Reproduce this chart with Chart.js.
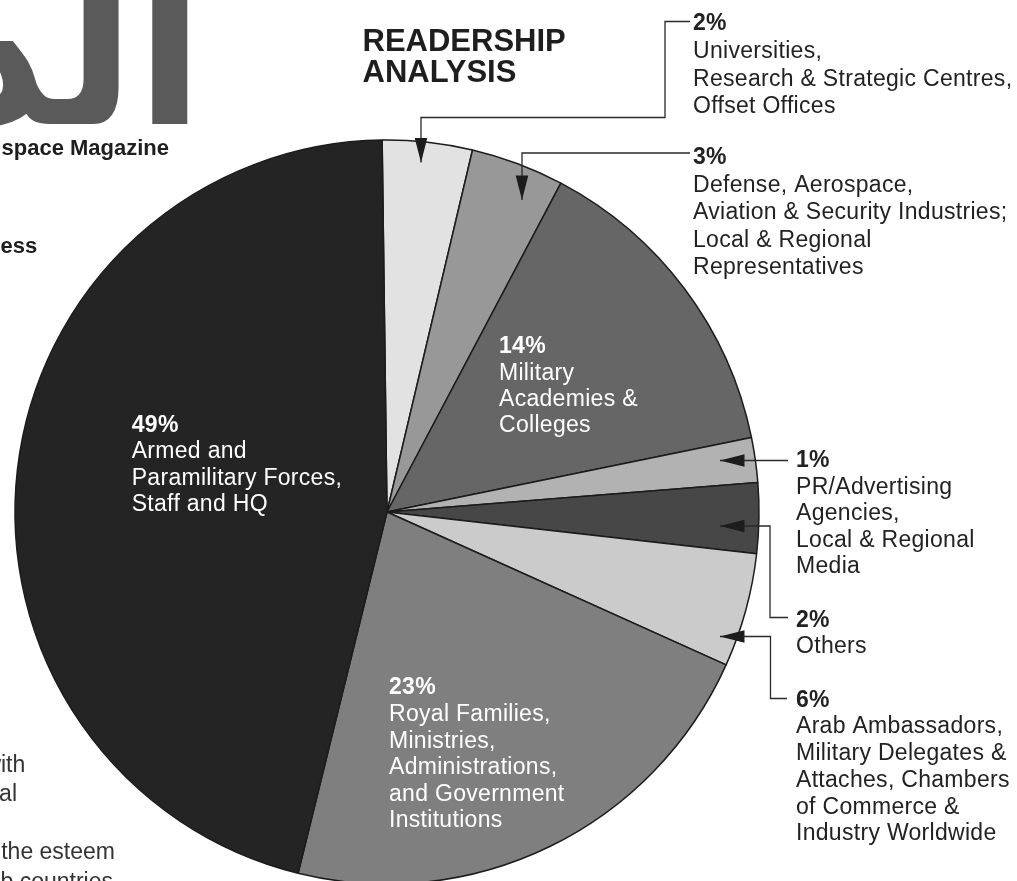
<!DOCTYPE html>
<html>
<head>
<meta charset="utf-8">
<script src="https://cdn.jsdelivr.net/npm/chart.js@4.4.0/dist/chart.umd.min.js"></script>
<style>
html, body { margin: 0; padding: 0; background: #fff; overflow: hidden; }
#wrap { position: absolute; left: 0; top: 0; width: 1017px; height: 900px; }
</style>
</head>
<body>
<div id="wrap"><canvas id="pie" width="1017" height="900"></canvas></div>
<script>
// printed percentages, clockwise from 12 o'clock
const percents = ['2%', '3%', '14%', '1%', '2%', '6%', '23%', '49%'];

// reader groups, same order
const groups = [
    ['Universities,', 'Research & Strategic Centres,', 'Offset Offices'],
    ['Defense, Aerospace,', 'Aviation & Security Industries;', 'Local & Regional', 'Representatives'],
    ['Military', 'Academies &', 'Colleges'],
    ['PR/Advertising', 'Agencies,', 'Local & Regional', 'Media'],
    ['Others'],
    ['Arab Ambassadors,', 'Military Delegates &', 'Attaches, Chambers', 'of Commerce &', 'Industry Worldwide'],
    ['Royal Families,', 'Ministries,', 'Administrations,', 'and Government', 'Institutions'],
    ['Armed and', 'Paramilitary Forces,', 'Staff and HQ']
];

// slice sizes as they are drawn on the page (share of the circle, %)
const shares = [3.9, 4.05, 14.05, 1.95, 3.05, 4.95, 22.1, 45.95];

const greys = ['#e2e2e2', '#989898', '#666666', '#b2b2b2', '#474747', '#cbcbcb', '#7f7f7f', '#242424'];

const FONT = '"Liberation Sans", Arial, Helvetica, sans-serif';

// where each text block sits: x, baseline of the percent line, line height, colour
const blocks = [
    [693, 30, 27.8, '#222'],
    [693, 164, 27.5, '#222'],
    [499, 353.3, 26.2, '#fff'],
    [796, 467.3, 26.5, '#222'],
    [796, 626.7, 26.6, '#222'],
    [796, 706.7, 26.7, '#222'],
    [389, 694.3, 26.6, '#fff'],
    [131.7, 431.7, 26.4, '#fff']
];

// leader lines, the last point is the arrow tip
const leaders = [
    [[690, 21.5], [665, 21.5], [665, 117.5], [421, 117.5], [421, 162.5]],
    [[690, 153], [522, 153], [522, 200]],
    null,
    [[788, 460.5], [720, 460.5]],
    [[788, 617.5], [770, 617.5], [770, 526], [720, 526]],
    [[787, 698.5], [770.5, 698.5], [770.5, 636.5], [720, 636.5]],
    null,
    null
];

function drawLeader(c, pts) {
    c.save();
    c.strokeStyle = '#2a2a2a';
    c.lineWidth = 1.3;
    c.beginPath();
    c.moveTo(pts[0][0], pts[0][1]);
    for (let i = 1; i < pts.length; i++) c.lineTo(pts[i][0], pts[i][1]);
    c.stroke();
    const [x1, y1] = pts[pts.length - 2], [x2, y2] = pts[pts.length - 1];
    const a = Math.atan2(y2 - y1, x2 - x1), L = 24.5, W = 6.3;
    const bx = x2 - L * Math.cos(a), by = y2 - L * Math.sin(a);
    c.fillStyle = '#1c1c1c';
    c.beginPath();
    c.moveTo(x2, y2);
    c.lineTo(bx - W * Math.sin(a), by + W * Math.cos(a));
    c.lineTo(bx + W * Math.sin(a), by - W * Math.cos(a));
    c.closePath();
    c.fill();
    c.restore();
}

// bits of the magazine page around the chart
const pageText = {
    id: 'pageText',
    beforeDraw(chart) {
        const c = chart.ctx;
        c.save();
        c.fillStyle = '#5a5a5a';
        c.font = 'bold 200px "DejaVu Sans", sans-serif';
        c.textAlign = 'right';
        c.textBaseline = 'alphabetic';
        c.direction = 'rtl';
        c.fillText('الدفاع', 204, 124);
        c.direction = 'ltr';
        c.textAlign = 'left';
        c.fillStyle = '#1e1e1e';
        c.font = 'bold 22px ' + FONT;
        c.fillText('space Magazine', 1.5, 155);
        c.fillText('ess', 0.5, 253.3);
        c.fillStyle = '#333';
        c.font = '23px ' + FONT;
        c.textAlign = 'right';
        c.fillText('with', 25.3, 771.5);
        c.fillText('al', 17, 800.5);
        c.fillText('the esteem', 115, 859);
        c.fillText('Arab countries', 113, 888.5);
        c.restore();
    }
};

const callouts = {
    id: 'callouts',
    afterDraw(chart) {
        const c = chart.ctx;
        c.save();
        c.textAlign = 'left';
        c.textBaseline = 'alphabetic';
        c.fillStyle = '#1e1e1e';
        c.font = 'bold 31px ' + FONT;
        c.fillText('READERSHIP', 362.5, 50.7);
        c.fillText('ANALYSIS', 362.5, 81.7);
        leaders.forEach(p => { if (p) drawLeader(c, p); });
        c.letterSpacing = '0.3px';
        blocks.forEach(([x, y, lh, col], i) => {
            c.fillStyle = col;
            c.font = 'bold 23px ' + FONT;
            c.fillText(percents[i], x, y);
            c.font = '23px ' + FONT;
            groups[i].forEach((t, j) => c.fillText(t, x, y + lh * (j + 1)));
        });
        c.restore();
    }
};

new Chart(document.getElementById('pie'), {
    type: 'pie',
    data: {
        labels: groups.map(g => g.join(' ')),
        datasets: [{
            data: shares,
            backgroundColor: greys,
            borderColor: '#1c1c1c',
            borderWidth: 1.5
        }]
    },
    options: {
        responsive: false,
        animation: false,
        devicePixelRatio: 1,
        rotation: -0.75,
        radius: 372,
        layout: {padding: {left: 15, right: 258, top: 140, bottom: 16}},
        plugins: {legend: {display: false}, tooltip: {enabled: false}}
    },
    plugins: [pageText, callouts]
});
</script>
</body>
</html>
